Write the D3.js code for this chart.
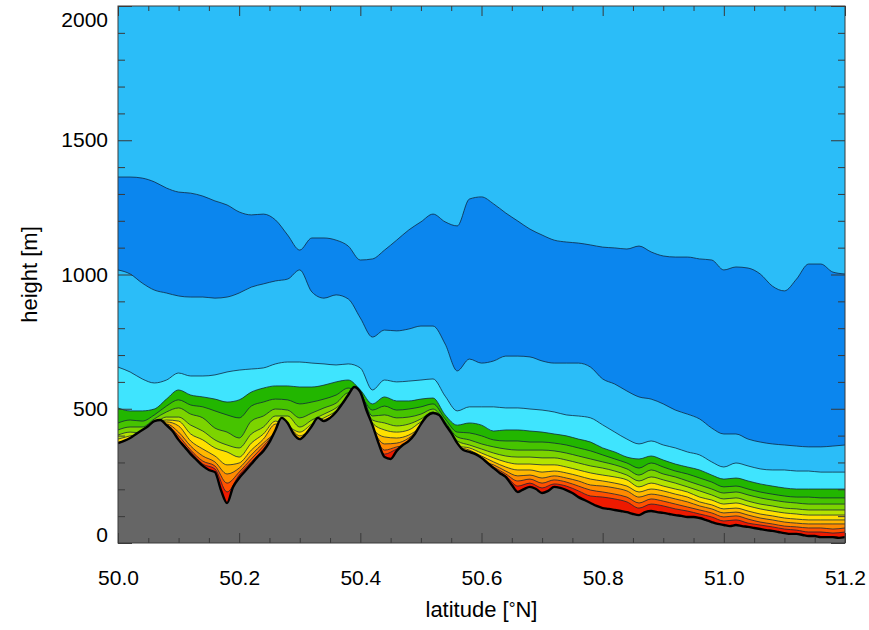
<!DOCTYPE html>
<html>
<head>
<meta charset="utf-8">
<script src="https://cdn.jsdelivr.net/npm/d3@7"></script>
<style>
  html, body { margin: 0; padding: 0; background: #fff; }
  svg { display: block; font-family: "Liberation Sans", Arial, Helvetica, sans-serif; }
</style>
</head>
<body>
<svg id="chart" width="869" height="630"></svg>
<script>
// Latitude grid (°N) shared by the layer boundaries
const lat = [50.00,50.02,50.04,50.06,50.08,50.10,50.12,50.14,50.16,50.18,
  50.20,50.22,50.24,50.26,50.28,50.30,50.32,50.34,50.36,50.38,
  50.40,50.42,50.44,50.46,50.48,50.50,50.52,50.54,50.56,50.58,
  50.60,50.62,50.64,50.66,50.68,50.70,50.72,50.74,50.76,50.78,
  50.80,50.82,50.84,50.86,50.88,50.90,50.92,50.94,50.96,50.98,
  51.00,51.02,51.04,51.06,51.08,51.10,51.12,51.14,51.16,51.18,51.20];

// Boundary heights (m), from the top band downward
const blueTop = [1363,1363,1359,1345,1322,1307,1303,1292,1274,1259,1233,1222,1225,1203,1147,1091,1136,1136,1128,1106,
  1054,1058,1091,1128,1166,1196,1225,1196,1181,1281,1289,1263,1229,1199,1169,1147,1128,1121,1117,1110,
  1102,1099,1095,1106,1084,1069,1065,1065,1058,1054,1017,1028,1024,1002,957,939,983,1039,1039,1009,1002];
const blueBottom = [1017,1002,968,942,931,920,916,916,912,916,931,953,965,976,983,1017,935,912,924,909,
  838,767,793,790,797,808,808,741,641,685,670,678,696,696,693,678,670,670,670,655,
  611,592,566,544,536,518,495,480,462,428,406,406,387,376,369,365,361,358,358,361,365];
const cyanTop = [655,637,611,596,607,633,622,622,626,637,644,648,652,667,674,674,670,667,663,667,
  652,570,607,600,603,607,611,547,492,507,507,507,503,503,499,495,488,477,473,466,
  440,413,387,369,380,365,354,339,328,302,283,298,287,276,272,272,268,268,264,264,264];
const green1Top = [503,492,492,499,536,570,551,544,536,525,533,562,577,585,585,581,581,588,600,607,
  570,518,544,529,529,536,540,477,439,447,439,417,421,421,417,413,406,399,387,376,
  354,339,320,313,324,309,294,283,272,253,238,242,231,220,212,205,201,201,201,201,201];
const green2Top = [447,458,454,477,510,533,514,507,492,477,466,510,525,536,533,518,525,536,551,577,
  551,495,510,495,499,507,518,462,413,410,399,384,380,380,376,376,372,365,354,343,
  328,313,298,279,298,283,268,257,242,227,209,212,201,190,182,175,171,171,168,168,168];
const green3Top = [421,432,432,462,488,503,480,466,428,413,391,454,473,499,495,466,484,503,521,559,
  551,473,477,466,469,480,499,451,395,384,369,358,350,346,346,346,343,335,324,313,
  302,291,276,253,272,257,246,231,216,201,186,190,179,168,160,153,149,145,145,145,145];
const limeTop = [402,413,410,443,469,469,439,417,384,365,354,406,432,473,473,432,458,480,503,540,
  551,458,447,436,443,462,488,432,380,365,350,335,324,320,320,317,317,309,298,287,
  279,268,253,231,246,235,223,209,194,179,164,168,156,145,138,130,127,123,123,123,123];
const yellowTop = [387,399,410,443,458,454,406,384,354,339,320,372,406,454,436,413,443,466,492,540,
  551,447,421,413,421,451,473,432,361,354,335,317,302,294,294,291,291,283,272,261,
  253,246,235,209,223,212,201,190,171,160,145,149,138,127,119,112,108,104,104,104,104];
const goldTop = [361,380,410,443,451,436,380,350,324,291,298,346,387,443,436,399,425,458,477,540,
  551,428,395,391,402,432,473,432,361,346,324,302,283,272,272,264,268,261,250,238,
  231,223,212,190,201,194,182,171,153,142,127,130,119,108,101,93,89,86,86,86,86];
const orangeTop = [361,380,410,443,443,413,361,324,302,257,279,328,372,410,436,376,425,443,477,540,
  551,428,369,372,391,432,473,432,361,328,305,291,268,250,253,242,250,242,231,216,
  212,205,194,171,182,175,164,153,138,127,112,115,104,93,86,78,74,71,71,71,71];
const redOrangeTop = [361,380,410,443,439,399,346,305,287,223,264,313,361,410,436,376,425,443,477,540,
  551,428,346,358,369,432,473,432,361,328,305,283,257,231,238,223,235,227,212,197,
  190,182,171,149,164,156,145,134,123,112,97,101,89,78,71,63,60,56,56,52,56];
const redTop = [361,380,410,443,436,387,339,294,276,190,253,302,350,410,436,376,425,443,477,540,
  551,428,331,350,369,432,473,432,361,328,305,268,250,212,223,205,220,212,194,175,
  171,164,153,130,145,138,127,119,108,97,82,86,74,67,60,52,48,41,41,37,41];

// Terrain profile on a finer latitude grid
const groundLat = [50.00,50.01,50.02,50.03,50.04,50.05,50.06,50.07,50.08,50.09,
  50.10,50.11,50.12,50.13,50.14,50.15,50.16,50.17,50.18,50.19,
  50.20,50.21,50.22,50.23,50.24,50.25,50.26,50.27,50.28,50.29,
  50.30,50.31,50.32,50.33,50.34,50.35,50.36,50.37,50.38,50.39,
  50.40,50.41,50.42,50.43,50.44,50.45,50.46,50.47,50.48,50.49,
  50.50,50.51,50.52,50.53,50.54,50.55,50.56,50.57,50.58,50.59,
  50.60,50.61,50.62,50.63,50.64,50.65,50.66,50.67,50.68,50.69,
  50.70,50.71,50.72,50.73,50.74,50.75,50.76,50.77,50.78,50.79,
  50.80,50.81,50.82,50.83,50.84,50.85,50.86,50.87,50.88,50.89,
  50.90,50.91,50.92,50.93,50.94,50.95,50.96,50.97,50.98,50.99,
  51.00,51.01,51.02,51.03,51.04,51.05,51.06,51.07,51.08,51.09,
  51.10,51.11,51.12,51.13,51.14,51.15,51.16,51.17,51.18,51.19,51.20];
const ground = [372,380,391,406,421,436,454,458,439,417,
  384,358,331,309,287,272,264,197,149,209,
  242,268,294,320,343,376,421,466,447,406,
  387,406,436,466,454,466,488,518,551,581,
  562,495,439,372,320,313,343,365,380,406,
  443,473,484,477,443,410,372,346,339,331,
  317,298,279,261,246,216,190,201,209,201,
  186,194,209,205,197,186,171,160,149,138,
  130,127,123,119,115,108,104,115,119,115,
  112,108,104,101,97,97,93,86,78,71,
  67,63,67,63,60,56,52,48,45,41,
  37,34,34,30,26,26,22,22,22,19,22];

// Axis ticks and labels
const xMajor = [50.0,50.2,50.4,50.6,50.8,51.0,51.2];
const xMinor = [50.05,50.1,50.15,50.25,50.3,50.35,50.45,50.5,50.55,50.65,50.7,50.75,50.85,50.9,50.95,51.05,51.1,51.15];
const yMajor = [0,500,1000,1500,2000];
const yMinor = [100,200,300,400,600,700,800,900,1100,1200,1300,1400,1600,1700,1800,1900];

// Fill colour of the band lying below each boundary
const skyColor = "#2bbdf8";
const layers = [
  { values: blueTop,      fill: "#0b86ee" },
  { values: blueBottom,   fill: "#2bbdf8" },
  { values: cyanTop,      fill: "#3fe4fe" },
  { values: green1Top,    fill: "#22b600" },
  { values: green2Top,    fill: "#46c400" },
  { values: green3Top,    fill: "#7cd400" },
  { values: limeTop,      fill: "#b4e400" },
  { values: yellowTop,    fill: "#ffe000" },
  { values: goldTop,      fill: "#ffb800" },
  { values: orangeTop,    fill: "#ff8a00" },
  { values: redOrangeTop, fill: "#ff5200" },
  { values: redTop,       fill: "#ee1a00" }
];

const W = 869, H = 630;
const m = { left: 118, right: 24, top: 6, bottom: 87 };
const x = d3.scaleLinear().domain([50, 51.2]).range([m.left, W - m.right]);
const y = d3.scaleLinear().domain([0, 2000]).range([H - m.bottom, m.top]);

const svg = d3.select("#chart");
svg.append("defs").append("clipPath").attr("id", "plotClip")
  .append("rect")
  .attr("x", m.left).attr("y", m.top)
  .attr("width", x.range()[1] - m.left).attr("height", y.range()[0] - m.top);

const plot = svg.append("g").attr("clip-path", "url(#plotClip)");

plot.append("rect")
  .attr("x", m.left).attr("y", m.top)
  .attr("width", x.range()[1] - m.left).attr("height", y.range()[0] - m.top)
  .attr("fill", skyColor);

// Each band fills from its upper boundary down to the plot floor; later bands paint over earlier ones
layers.forEach(layer => {
  const pts = lat.map((la, i) => [la, layer.values[i]]);
  const area = d3.area().x(d => x(d[0])).y0(y(0) + 5).y1(d => y(d[1])).curve(d3.curveMonotoneX);
  const line = d3.line().x(d => x(d[0])).y(d => y(d[1])).curve(d3.curveMonotoneX);
  plot.append("path").attr("d", area(pts)).attr("fill", layer.fill);
  plot.append("path").attr("d", line(pts)).attr("fill", "none")
    .attr("stroke", "#10243a").attr("stroke-width", 0.9).attr("stroke-opacity", 0.85);
});

// Terrain
const gpts = groundLat.map((la, i) => [la, ground[i]]);
plot.append("path")
  .attr("d", d3.area().x(d => x(d[0])).y0(y(0) + 5).y1(d => y(d[1])).curve(d3.curveMonotoneX)(gpts))
  .attr("fill", "#666666");
plot.append("path")
  .attr("d", d3.line().x(d => x(d[0])).y(d => y(d[1])).curve(d3.curveMonotoneX)(gpts))
  .attr("fill", "none").attr("stroke", "#000").attr("stroke-width", 2.4);

// Frame and inward ticks on all four sides
const axisColor = "#3a3a3a";
function styleAxis(g) {
  g.select(".domain").remove();
  g.selectAll(".tick line").attr("stroke", axisColor).attr("stroke-width", 1);
  g.selectAll("text").attr("fill", "#000").attr("font-size", 21);
}
const y0 = y(0), y1 = y(2000), x0 = x(50), x1 = x(51.2);

svg.append("g").attr("transform", `translate(0,${y0})`)
  .call(d3.axisBottom(x).tickValues(xMajor).tickSize(-10).tickPadding(27).tickFormat(d3.format(".1f")))
  .call(styleAxis);
svg.append("g").attr("transform", `translate(0,${y0})`)
  .call(d3.axisBottom(x).tickValues(xMinor).tickSize(-5).tickFormat(""))
  .call(styleAxis);
svg.append("g").attr("transform", `translate(0,${y1})`)
  .call(d3.axisTop(x).tickValues(xMajor).tickSize(-10).tickFormat(""))
  .call(styleAxis);
svg.append("g").attr("transform", `translate(0,${y1})`)
  .call(d3.axisTop(x).tickValues(xMinor).tickSize(-5).tickFormat(""))
  .call(styleAxis);

const yAxisG = svg.append("g").attr("transform", `translate(${x0},0)`)
  .call(d3.axisLeft(y).tickValues(yMajor).tickSize(-14).tickPadding(10).tickFormat(d3.format("d")))
  .call(styleAxis);
// keep the end labels inside the vertical extent of the frame
yAxisG.selectAll(".tick").filter(d => d === 0).select("text").attr("dy", "0").attr("y", -2);
yAxisG.selectAll(".tick").filter(d => d === 2000).select("text").attr("dy", "0").attr("y", 20);
svg.append("g").attr("transform", `translate(${x0},0)`)
  .call(d3.axisLeft(y).tickValues(yMinor).tickSize(-7).tickFormat(""))
  .call(styleAxis);
svg.append("g").attr("transform", `translate(${x1},0)`)
  .call(d3.axisRight(y).tickValues(yMajor).tickSize(-14).tickFormat(""))
  .call(styleAxis);
svg.append("g").attr("transform", `translate(${x1},0)`)
  .call(d3.axisRight(y).tickValues(yMinor).tickSize(-7).tickFormat(""))
  .call(styleAxis);

svg.append("rect")
  .attr("x", x0).attr("y", y1).attr("width", x1 - x0).attr("height", y0 - y1)
  .attr("fill", "none").attr("stroke", axisColor).attr("stroke-width", 1);

// Axis titles
const xt = svg.append("text")
  .attr("x", (x0 + x1) / 2).attr("y", 617)
  .attr("text-anchor", "middle").attr("font-size", 22).attr("fill", "#000");
xt.append("tspan").text("latitude [");
xt.append("tspan").text("°").attr("font-size", 17).attr("dy", -3);
xt.append("tspan").text("N]").attr("dy", 3);

svg.append("text")
  .attr("transform", `translate(37,${(y0 + y1) / 2}) rotate(-90)`)
  .attr("text-anchor", "middle").attr("font-size", 22).attr("fill", "#000")
  .text("height [m]");
</script>
</body>
</html>
